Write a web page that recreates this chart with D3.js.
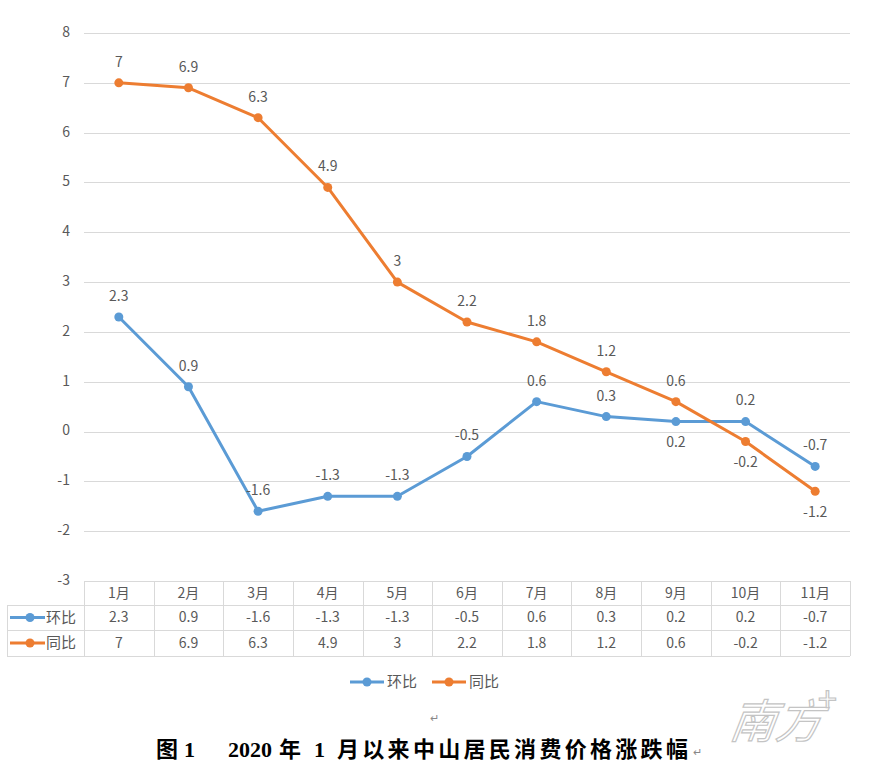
<!DOCTYPE html>
<html lang="zh">
<head>
<meta charset="UTF-8">
<title>2020年1月以来中山居民消费价格涨跌幅</title>
<script src="https://d3js.org/d3.v7.min.js"></script>
<style>
    body { margin: 0; background: #fff; }
    svg { display: block; font-family: "Noto Sans CJK SC", "Noto Sans", sans-serif; }
</style>
</head>
<body>
<div id="chart"></div>
<script>
const months = ['1月', '2月', '3月', '4月', '5月', '6月', '7月', '8月', '9月', '10月', '11月'];
const huanbi = [2.3, 0.9, -1.6, -1.3, -1.3, -0.5, 0.6, 0.3, 0.2, 0.2, -0.7];
const tongbi = [7, 6.9, 6.3, 4.9, 3, 2.2, 1.8, 1.2, 0.6, -0.2, -1.2];
const yTicks = [-3, -2, -1, 0, 1, 2, 3, 4, 5, 6, 7, 8];
const titleParts = ['图', '1', '2020', '年', '1', '月以来中山居民消费价格涨跌幅'];

const series = [
    { name: '环比', values: huanbi, color: '#5B9BD5', below: ['9月'] },
    { name: '同比', values: tongbi, color: '#ED7D31', below: ['10月', '11月'] }
];

const width = 880, height = 782;
const plot = { left: 84, right: 850, top: 33, bottom: 581 };
const textColor = '#595959';
const gridColor = '#d9d9d9';

const svg = d3.select('#chart').append('svg')
    .attr('width', width)
    .attr('height', height);

svg.append('rect').attr('width', width).attr('height', height).attr('fill', '#fff');

const x = d3.scaleBand().domain(months).range([plot.left, plot.right]).padding(0);
const cx = m => x(m) + x.bandwidth() / 2;
const y = d3.scaleLinear().domain([-3, 8]).range([plot.bottom, plot.top]);

// gridlines + y labels
svg.append('g').selectAll('line')
    .data(yTicks)
    .join('line')
    .attr('x1', plot.left).attr('x2', plot.right)
    .attr('y1', d => Math.round(y(d)) + 0.5).attr('y2', d => Math.round(y(d)) + 0.5)
    .attr('stroke', gridColor).attr('stroke-width', 1);

svg.append('g').selectAll('text')
    .data(yTicks)
    .join('text')
    .attr('x', 70).attr('y', d => y(d) - 1)
    .attr('dy', '0.35em')
    .attr('text-anchor', 'end')
    .attr('font-size', 14)
    .attr('fill', textColor)
    .text(d => d);

// lines, markers, labels
const line = d3.line().x((d, i) => cx(months[i])).y(d => y(d));

series.forEach(s => {
    const g = svg.append('g');
    g.append('path')
        .datum(s.values)
        .attr('fill', 'none')
        .attr('stroke', s.color)
        .attr('stroke-width', 3)
        .attr('stroke-linejoin', 'round')
        .attr('d', line);

    g.selectAll('circle')
        .data(s.values)
        .join('circle')
        .attr('cx', (d, i) => cx(months[i]))
        .attr('cy', d => y(d))
        .attr('r', 4.5)
        .attr('fill', s.color);

    g.selectAll('text')
        .data(s.values)
        .join('text')
        .attr('x', (d, i) => cx(months[i]))
        .attr('y', (d, i) => y(d) + (s.below.includes(months[i]) ? 21 : -21))
        .attr('dy', '0.35em')
        .attr('text-anchor', 'middle')
        .attr('font-size', 14)
        .attr('fill', textColor)
        .text(d => d);
});

// data table (top edge is the -3 gridline)
const top0 = Math.round(y(-3));
const rowY = [top0, top0 + 24, top0 + 49, top0 + 75];
const tableLeft = 7;
const table = svg.append('g').attr('stroke', gridColor).attr('stroke-width', 1);

rowY.slice(1).forEach(ry => {
    table.append('line')
        .attr('x1', tableLeft).attr('x2', plot.right)
        .attr('y1', ry + 0.5).attr('y2', ry + 0.5);
});
table.append('line')
    .attr('x1', tableLeft + 0.5).attr('x2', tableLeft + 0.5)
    .attr('y1', rowY[1]).attr('y2', rowY[3]);
months.concat(['end']).forEach((m, i) => {
    const vx = Math.round(i < months.length ? x(m) : plot.right);
    table.append('line')
        .attr('x1', vx + 0.5).attr('x2', vx + 0.5)
        .attr('y1', rowY[0]).attr('y2', rowY[3]);
});

const cells = svg.append('g')
    .attr('font-size', 14)
    .attr('fill', textColor)
    .attr('text-anchor', 'middle');

cells.selectAll('text.head')
    .data(months)
    .join('text')
    .attr('class', 'head')
    .attr('x', d => cx(d))
    .attr('y', (rowY[0] + rowY[1]) / 2)
    .attr('dy', '0.35em')
    .text(d => d);

series.forEach((s, si) => {
    const midY = (rowY[si + 1] + rowY[si + 2]) / 2;
    cells.append('g').selectAll('text')
        .data(s.values)
        .join('text')
        .attr('x', (d, i) => cx(months[i]))
        .attr('y', midY)
        .attr('dy', '0.35em')
        .text(d => d);

    svg.append('line')
        .attr('x1', 10).attr('x2', 45)
        .attr('y1', midY).attr('y2', midY)
        .attr('stroke', s.color).attr('stroke-width', 3);
    svg.append('circle')
        .attr('cx', 30).attr('cy', midY).attr('r', 4.5)
        .attr('fill', s.color);
    svg.append('text')
        .attr('x', 46).attr('y', midY)
        .attr('dy', '0.35em')
        .attr('font-size', 15)
        .attr('fill', textColor)
        .text(s.name);
});

// legend
const legendX = [350, 432];
const legendY = 682;
series.forEach((s, i) => {
    const lx = legendX[i];
    svg.append('line')
        .attr('x1', lx).attr('x2', lx + 34)
        .attr('y1', legendY).attr('y2', legendY)
        .attr('stroke', s.color).attr('stroke-width', 3);
    svg.append('circle')
        .attr('cx', lx + 17).attr('cy', legendY).attr('r', 4.5)
        .attr('fill', s.color);
    svg.append('text')
        .attr('x', lx + 37).attr('y', legendY)
        .attr('dy', '0.35em')
        .attr('font-size', 15)
        .attr('fill', textColor)
        .text(s.name);
});

// caption
svg.append('text')
    .attr('x', 430).attr('y', 718)
    .attr('dy', '0.35em')
    .attr('font-size', 11)
    .attr('fill', '#888')
    .text('↵');

const partX = [156, 184, 228, 279, 314, 337];
const title = svg.append('text')
    .attr('y', 749)
    .attr('dy', '0.35em')
    .attr('font-family', '"Liberation Serif", "Noto Sans CJK SC", serif')
    .attr('font-size', 22)
    .attr('font-weight', 'bold')
    .attr('fill', '#000');
titleParts.forEach((p, i) => {
    title.append('tspan')
        .attr('x', partX[i])
        .attr('letter-spacing', i === titleParts.length - 1 ? 3.3 : 0)
        .text(p);
});

svg.append('text')
    .attr('x', 693).attr('y', 752)
    .attr('dy', '0.35em')
    .attr('font-size', 11)
    .attr('fill', '#888')
    .text('↵');

// watermark
svg.append('text')
    .attr('x', 732).attr('y', 738)
    .attr('font-size', 46)
    .attr('font-style', 'italic')
    .attr('fill', '#fff')
    .attr('stroke', '#c4c4c4')
    .attr('stroke-width', 1.2)
    .attr('transform', 'skewX(-8) translate(100,0)')
    .text('南方');
svg.append('text')
    .attr('x', 818).attr('y', 712)
    .attr('font-size', 34)
    .attr('fill', '#fff')
    .attr('stroke', '#c4c4c4')
    .attr('stroke-width', 1.2)
    .text('+');
</script>
</body>
</html>
